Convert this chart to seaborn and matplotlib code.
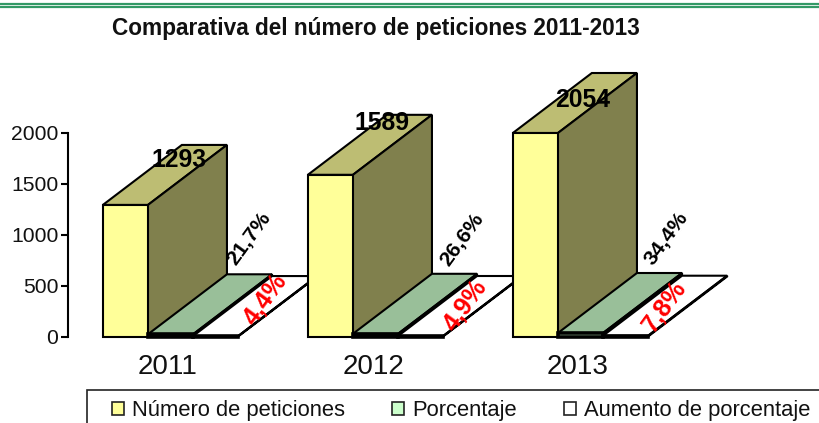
import matplotlib
matplotlib.use("Agg")
import matplotlib.pyplot as plt
import numpy as np
import pandas as pd
import seaborn as sns
from matplotlib.patches import Polygon, Rectangle
from matplotlib.transforms import Affine2D

years = ["2011", "2012", "2013"]
peticiones = [1293, 1589, 2054]
porcentaje = [21.7, 26.6, 34.4]
aumento = [4.4, 4.9, 7.8]
series = ["Número de peticiones", "Porcentaje", "Aumento de porcentaje"]
etiq_porcentaje = ["21,7%", "26,6%", "34,4%"]
etiq_aumento = ["4,4%", "4,9%", "7,8%"]
yticks = [0, 500, 1000, 1500, 2000]
title = "Comparativa del número de peticiones 2011-2013"

W, H = 819, 423
sns.set_style("white")
plt.rcParams["font.family"] = ["Liberation Sans", "DejaVu Sans"]
fig = plt.figure(figsize=(W / 100, H / 100), dpi=100)
ax = fig.add_axes([68 / W, 1 - 336.5 / H, 615 / W, 203.5 / H])

df = pd.DataFrame({
    "Año": years * 3,
    "Valor": peticiones + porcentaje + aumento,
    "Serie": [s for s in series for _ in years],
})
front = ["#FFFF99", "#CCFFCC", "#FFFFFF"]
top = ["#BDBD73", "#99BF99", "#FFFFFF"]
side = ["#80804D", "#000000", "#000000"]
sns.barplot(data=df, x="Año", y="Valor", hue="Serie", palette=front, width=0.66,
            gap=0, saturation=1, edgecolor="black", linewidth=1.5, ax=ax, legend=False)

ymax = 2000
ax.set_ylim(0, ymax)
ax.set_xlim(-0.5, 2.5)
ax.set_xlabel("")
ax.set_ylabel("")
ax.set_yticks(yticks)
for s in ["top", "right", "bottom"]:
    ax.spines[s].set_visible(False)
ax.spines["left"].set_linewidth(1.5)
ax.spines["left"].set_color("black")
ax.tick_params(axis="y", left=True, length=5, width=1.5, labelsize=15.2, pad=2, color="black", labelcolor="#111111")
ax.tick_params(axis="x", bottom=False, labelsize=20, pad=9, labelcolor="#111111")
for t in ax.get_xticklabels():
    t.set_transform(t.get_transform() + Affine2D().translate(-2.5, 0))

# 3-D depth of each bar, drawn from the bars themselves
DX, DY = 79, 60
for s_i, cont in enumerate(ax.containers):
    for g_i, p in enumerate(cont.patches):
        z = 3 + g_i * 3 + s_i * 0.5
        p.set_height(min(p.get_height(), ymax))
        p.set_clip_on(False)
        p.set_zorder(z + 0.2)
        if s_i > 0:
            p.set_linewidth(2.6)
        x0, x1, h = p.get_x(), p.get_x() + p.get_width(), p.get_height()
        for (a, b), col in ((((x0, h), (x1, h)), top[s_i]), (((x1, 0), (x1, h)), side[s_i])):
            disp = ax.transData.transform([a, b])
            back = disp + [DX, DY]
            poly = Polygon(np.vstack([disp, back[::-1]]), closed=True, transform=Affine2D(),
                           facecolor=col, edgecolor="black", linewidth=1.5,
                           clip_on=False, zorder=z, joinstyle="miter")
            ax.add_artist(poly)

def label(i, y, s, off, **kw):
    ax.annotate(s, xy=(i, y), xytext=off, textcoords="offset pixels", ha="center", va="center",
                fontweight="bold", zorder=50, annotation_clip=False, **kw)

off_pet = [(9, 45), (7, 52), (2, 33)]
off_por = [(78.5, 98), (86.5, 97), (85.5, 98)]
off_aum = [(94.5, 37), (89.5, 31), (84.5, 30)]
for i in range(3):
    label(i, min(peticiones[i], ymax), str(peticiones[i]), off_pet[i], fontsize=17.8, color="black")
    label(i, 0, etiq_porcentaje[i], off_por[i], fontsize=15.3, color="black", rotation=54, rotation_mode="anchor")
    label(i, 0, etiq_aumento[i], off_aum[i], fontsize=18, color="#FF0000", rotation=54, rotation_mode="anchor")

fig.text(376 / W, 1 - 29 / H, title, ha="center", va="center", fontsize=16.3, fontweight="bold", color="#111111")

# double rule along the top
for yy in (4.2, 7):
    fig.add_artist(plt.Line2D([0, 1], [1 - yy / H] * 2, color="#339966", lw=1.6))

# legend box, running past the picture's edge as in the original
fig.add_artist(Rectangle((87 / W, 1 - 440 / H), 760 / W, 50 / H, transform=fig.transFigure,
                         facecolor="none", edgecolor="#222222", lw=1.2))
handles = [Rectangle((0, 0), 1, 1, facecolor=c, edgecolor="#222222", lw=1.2) for c in front]
fig.legend(handles, series, loc="center left", bbox_to_anchor=(112 / W, 1 - 410.5 / H),
           ncol=3, frameon=False, fontsize=15.8, borderpad=0, borderaxespad=0,
           handlelength=0.55, handleheight=0.55, handletextpad=0.36, columnspacing=2.15,
           labelcolor="#111111")

fig.savefig("out.png", dpi=100, facecolor="white")
